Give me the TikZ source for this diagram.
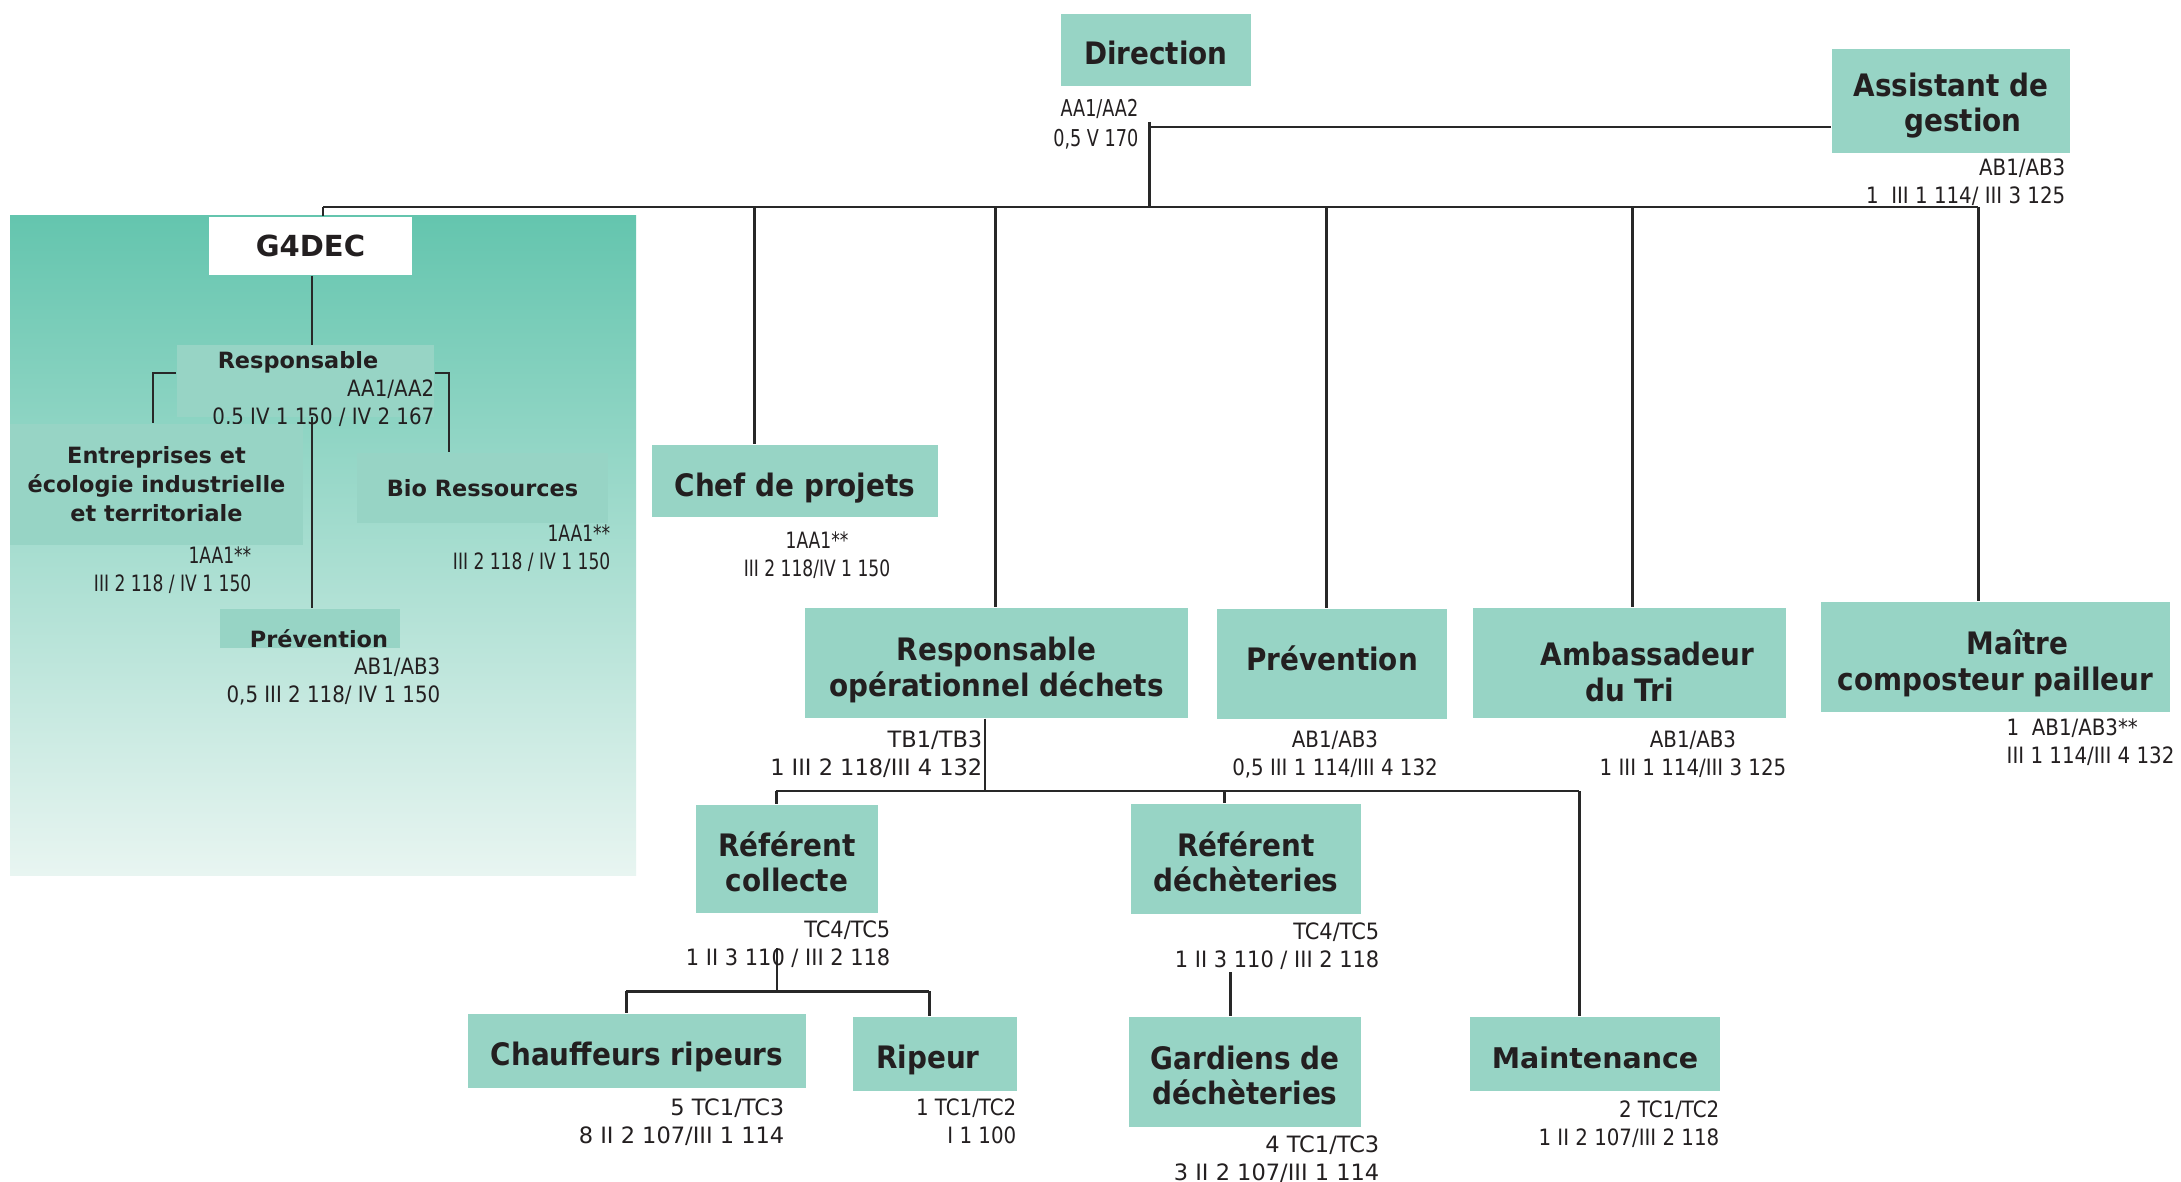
\documentclass[tikz,border=0pt]{standalone}
\usepackage{fontspec}
\setmainfont{DejaVu Sans}
\newfontfamily\tfont{DejaVu Sans}[FakeStretch=0.9]
\newfontfamily\cfont{DejaVu Sans}[FakeStretch=0.88]
\newfontfamily\cfontN{DejaVu Sans}[FakeStretch=0.76]
\newfontfamily\cfontM{DejaVu Sans}[FakeStretch=0.93]
\newfontfamily\cfontW{DejaVu Sans}[FakeStretch=1.0]
\newcommand{\dn}[2]{\raisebox{-#1}[\height][\depth]{#2}}
\definecolor{boxc}{RGB}{151,212,197}
\definecolor{panTop}{RGB}{100,197,174}
\definecolor{panBot}{RGB}{232,245,241}
\definecolor{linec}{RGB}{40,40,40}
\definecolor{txt}{RGB}{35,31,32}
\pgfdeclarelayer{panel}
\pgfdeclarelayer{lines}
\pgfsetlayers{panel,lines,main}
\tikzset{
  box/.style={fill=boxc, inner sep=0pt, align=center, text=txt,
    font=\tfont\bfseries\fontsize{8.8}{10}\selectfont},
  wbox/.style={box, font=\bfseries\fontsize{8.1}{9.96}\selectfont},
  pbox/.style={fill=boxc, inner sep=0pt, align=center, text=txt,
    font=\bfseries\fontsize{6.37}{8.25}\selectfont},
  ptext/.style={inner sep=0pt, text=txt, font=\bfseries\fontsize{6.37}{8.25}\selectfont},
  code/.style={inner sep=0pt, text=txt, font=\cfont\fontsize{6.4}{7.9}\selectfont},
  ncode/.style={code, font=\cfontN\fontsize{6.4}{7.9}\selectfont},
  mcode/.style={code, font=\cfontM\fontsize{6.4}{7.9}\selectfont},
  wcode/.style={code, font=\cfontW\fontsize{6.4}{7.9}\selectfont},
  dcode/.style={code, font=\cfontN\fontsize{6.6}{8.4}\selectfont},
  conn/.style={draw=linec, line width=0.85pt},
}
\begin{document}
\begin{tikzpicture}[x=0.01cm,y=-0.01cm]
\useasboundingbox (0,0) rectangle (2181,1182);
\begin{pgfonlayer}{panel}
  \fill[white] (0,0) rectangle (2181,1182);
  \shade[top color=panTop, bottom color=panBot] (10,216) rectangle (636,875);
\end{pgfonlayer}

% ---------- top ----------
\node[box, minimum width=1.90cm, minimum height=0.72cm] (dir) at (1156,50) {\dn{0.028cm}{Direction}};
\node[dcode, anchor=north east, align=right] (dirc) at (1139,99) {AA1/AA2\\0,5 V 170};
\node[box, minimum width=2.38cm, minimum height=1.04cm] (asg) at (1951,101) {\dn{0.049cm}{Assistant de}\\\dn{0.049cm}{\hspace*{0.24cm}gestion}};
\node[code, anchor=north east, align=right] (asgc) at (2066,158) {AB1/AB3\\1\ \ III 1 114/ III 3 125};

% ---------- G4DEC panel ----------
\node[fill=white, inner sep=0pt, minimum width=2.03cm, minimum height=0.58cm, text=txt,
  font=\bfseries\fontsize{8.25}{9.9}\selectfont] (g4) at (310.5,246) {G4DEC};
\node[fill=boxc, inner sep=0pt, minimum width=2.57cm, minimum height=0.72cm] (respI) at (305.5,381) {};
\node[ptext] (respIt) at (298,362) {Responsable};
\node[code, anchor=north east, align=right] (respIc) at (435,379) {AA1/AA2\\0,5 IV 1 150 / IV 2 167};
\node[pbox, minimum width=2.93cm, minimum height=1.21cm] (entr) at (156.5,484.5) {Entreprises et\\écologie industrielle\\et territoriale};
\node[ncode, anchor=north east, align=right] (entrc) at (252,546) {1AA1**\\III 2 118 / IV 1 150};
\node[pbox, minimum width=2.51cm, minimum height=0.70cm] (bio) at (482.5,488) {Bio Ressources};
\node[ncode, anchor=north east, align=right] (bioc) at (611,524) {1AA1**\\III 2 118 / IV 1 150};
\node[fill=boxc, inner sep=0pt, minimum width=1.80cm, minimum height=0.39cm] (prevI) at (310,628.5) {};
\node[ptext] (prevIt) at (319,639) {Prévention};
\node[code, anchor=north east, align=right] (prevIc) at (441,657) {AB1/AB3\\0,5 III 2 118/ IV 1 150};

% ---------- second row ----------
\node[box, minimum width=2.86cm, minimum height=0.72cm] (chef) at (795,481) {\dn{0.07cm}{Chef de projets}};
\node[ncode, anchor=north, align=center] (chefc) at (817,531) {1AA1**\\III 2 118/IV 1 150};
\node[box, minimum width=3.83cm, minimum height=1.10cm] (rod) at (996.5,663) {\dn{0.07cm}{Responsable}\\\dn{0.07cm}{opérationnel déchets}};
\node[wcode, anchor=north east, align=right] (rodc) at (983,730) {TB1/TB3\\1 III 2 118/III 4 132};
\node[box, minimum width=2.30cm, minimum height=1.10cm] (prevM) at (1332,664) {\dn{-0.056cm}{Prévention}};
\node[code, anchor=north, align=center] (prevMc) at (1335,730) {AB1/AB3\\0,5 III 1 114/III 4 132};
\node[box, minimum width=3.13cm, minimum height=1.10cm] (amb) at (1629.5,663) {\dn{0.09cm}{\hspace*{0.36cm}Ambassadeur}\\\dn{0.09cm}{du Tri}};
\node[code, anchor=north, align=center] (ambc) at (1693,730) {AB1/AB3\\1 III 1 114/III 3 125};
\node[box, minimum width=3.49cm, minimum height=1.10cm] (mcp) at (1995.5,657) {\dn{0.063cm}{\hspace*{0.44cm}Maître}\\\dn{0.063cm}{composteur pailleur}};
\node[code, anchor=north west, align=left] (mcpc) at (2006,718) {1\ \ AB1/AB3**\\III 1 114/III 4 132};

% ---------- third row ----------
\node[box, minimum width=1.82cm, minimum height=1.08cm] (refc) at (787,859) {\dn{0.028cm}{Référent}\\\dn{0.028cm}{collecte}};
\node[mcode, anchor=north east, align=right] (refcc) at (891,920) {TC4/TC5\\1 II 3 110 / III 2 118};
\node[box, minimum width=2.30cm, minimum height=1.10cm] (refd) at (1246,859) {\dn{0.028cm}{Référent}\\\dn{0.028cm}{déchèteries}};
\node[mcode, anchor=north east, align=right] (refdc) at (1380,922) {TC4/TC5\\1 II 3 110 / III 2 118};

% ---------- fourth row ----------
\node[box, minimum width=3.38cm, minimum height=0.74cm] (chauf) at (637,1051) {\dn{0.056cm}{Chauffeurs ripeurs}};
\node[wcode, anchor=north east, align=right] (chaufc) at (785,1098) {5 TC1/TC3\\8 II 2 107/III 1 114};
\node[box, minimum width=1.64cm, minimum height=0.74cm] (rip) at (935,1054) {\dn{0.056cm}{Ripeur\hspace*{0.14cm}}};
\node[code, anchor=north east, align=right] (ripc) at (1017,1098) {1 TC1/TC2\\I 1 100};
\node[box, minimum width=2.32cm, minimum height=1.10cm] (gard) at (1245,1072) {\dn{0.035cm}{Gardiens de}\\\dn{0.035cm}{déchèteries}};
\node[wcode, anchor=north east, align=right] (gardc) at (1380,1135) {4 TC1/TC3\\3 II 2 107/III 1 114};
\node[wbox, minimum width=2.50cm, minimum height=0.74cm] (maint) at (1595,1054) {\dn{0.042cm}{Maintenance}};
\node[code, anchor=north east, align=right] (maintc) at (1720,1100) {2 TC1/TC2\\1 II 2 107/III 2 118};

% ---------- connectors ----------
\coordinate (dtop) at (1149,122);
\coordinate (busD) at (1149,207);
\coordinate (dj) at (1149,127);
\coordinate (busL) at (323,207);
\coordinate (busR) at (1978,207);
\coordinate (cj) at (754,207);
\coordinate (rj) at (995,207);
\coordinate (pj) at (1326,207);
\coordinate (aj) at (1632,207);
\coordinate (gl) at (312,300);
\coordinate (bl) at (153,373);
\coordinate (br) at (449,373);
\coordinate (rodb) at (985,791);
\coordinate (sbL) at (776,791);
\coordinate (sbM) at (1224,791);
\coordinate (sbR) at (1579,791);
\coordinate (rcl) at (777,948);
\coordinate (rcb) at (777,991);
\coordinate (ssL) at (626,991);
\coordinate (ssR) at (929,991);
\coordinate (rdl) at (1230,972);

\begin{pgfonlayer}{lines}
  \draw[conn] (dtop) -- (busD);
  \draw[conn] (dj) -- (dj -| asg.west);
  \draw[conn] (busL) -- (busR);
  \draw[conn] (busL) -- (busL |- g4.north);
  \draw[conn] (cj) -- (cj |- chef.north);
  \draw[conn] (rj) -- (rj |- rod.north);
  \draw[conn] (pj) -- (pj |- prevM.north);
  \draw[conn] (aj) -- (aj |- amb.north);
  \draw[conn] (busR) -- (busR |- mcp.north);
  % panel
  \draw[conn] (gl |- g4.south) -- (gl |- prevI.north);
  \draw[conn] (respI.west |- bl) -- (bl) -- (bl |- entr.north);
  \draw[conn] (respI.east |- br) -- (br) -- (br |- bio.north);
  % operational
  \draw[conn, line width=0.7pt] (rodb |- rod.south) -- (rodb);
  \draw[conn] (sbL) -- (sbR);
  \draw[conn] (sbL) -- (sbL |- refc.north);
  \draw[conn] (sbM) -- (sbM |- refd.north);
  \draw[conn] (sbR) -- (sbR |- maint.north);
  \draw[conn, line width=0.7pt] (rcl) -- (rcb);
  \draw[conn] (ssL) -- (ssR);
  \draw[conn] (ssL) -- (ssL |- chauf.north);
  \draw[conn] (ssR) -- (ssR |- rip.north);
  \draw[conn] (rdl) -- (rdl |- gard.north);
\end{pgfonlayer}
\end{tikzpicture}
\end{document}
